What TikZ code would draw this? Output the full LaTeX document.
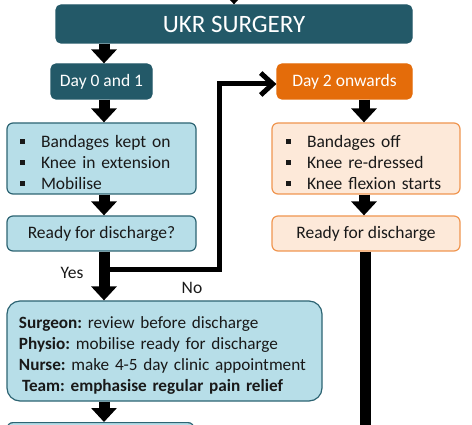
\documentclass[tikz,border=0pt]{standalone}
\usepackage{fontspec}
\setmainfont{Carlito}
\usetikzlibrary{arrows.meta}
\definecolor{dteal}{RGB}{35,89,104}
\definecolor{lblue}{RGB}{183,222,232}
\definecolor{lbord}{RGB}{45,100,115}
\definecolor{orng}{RGB}{228,108,10}
\definecolor{peach}{RGB}{253,233,217}
\definecolor{pbord}{RGB}{240,150,80}
\newcommand\bul{\makebox[21pt][l]{\raisebox{3.5pt}{\rule{5pt}{5pt}}}}
\frenchspacing
\begin{document}
\begin{tikzpicture}[x=1pt,y=-1pt,
  txt/.style={font=\fontsize{17.5}{21}\selectfont, text=black!90},
  darkbox/.style={draw=dteal, fill=dteal, text=white, rounded corners=5pt, line width=1.2pt,
    minimum height=35pt, inner sep=0pt, font=\fontsize{17.5}{21}\selectfont},
  orangebox/.style={darkbox, draw=orng, fill=orng},
  bluebox/.style={txt, draw=lbord, fill=lblue, rounded corners=6pt, line width=1.2pt,
    minimum height=35pt, inner ysep=0pt, align=left},
  peachbox/.style={bluebox, draw=pbord, fill=peach},
  bigarrow/.style={line width=11pt, -{Triangle[width=25pt,length=14pt]}},
  bigline/.style={line width=11pt},
  noline/.style={line width=5pt, -{Straight Barb[length=12pt,width=22pt]}},
  lbl/.style={txt, inner sep=0pt}
]
\useasboundingbox (0,0) rectangle (472,425);
\clip (0,0) rectangle (472,425);
\fill[white] (0,0) rectangle (472,425);

\node[darkbox, minimum width=356pt, minimum height=38pt, font=\fontsize{25}{29}\selectfont] (ukr) at (234,24) {UKR SURGERY};
\node[darkbox, minimum width=101pt] (day0) at (101.5,81.5) {Day 0 and 1};
\node[orangebox, minimum width=135pt] (day2) at (344.5,81.5) {Day 2 onwards};

\node[bluebox, minimum height=71pt, text width=163pt, inner xsep=13pt] (lb) at (101.5,158.5)
  {\rule{0pt}{20pt}\bul Bandages kept on\\ \bul Knee in extension\\ \bul Mobilise};
\node[peachbox, minimum height=71pt, text width=160pt, inner xsep=14pt] (rb) at (366,158.5)
  {\rule{0pt}{20pt}\bul Bandages off\\ \bul Knee re-dressed\\ \bul Knee flexion starts};

\node[bluebox, minimum width=189pt, align=center] (lr) at (101.5,233.5) {Ready for discharge?};
\node[peachbox, minimum width=188pt, align=center] (rr) at (366,233.5) {Ready for discharge};

\node[bluebox, rounded corners=13pt, minimum height=100pt, text width=291pt, inner xsep=12pt,
  font=\fontsize{17.2}{21}\selectfont] (surg) at (164.5,351)
  {\rule{0pt}{21pt}\mbox{\textbf{Surgeon:} review before discharge}\\
   \mbox{\textbf{Physio:} mobilise ready for discharge}\\
   \mbox{\textbf{Nurse:} make 4-5 day clinic appointment}\\
   \mbox{\hspace*{3pt}\textbf{Team: emphasise regular pain relief}}};

\node[bluebox, minimum width=187pt, minimum height=50pt, anchor=north] (bot) at (100.5,422) {};

\coordinate (ax) at (104,0);
\coordinate (bx) at (364,0);
\coordinate (topin) at (234,-20);
\coordinate (split) at (104,270);
\coordinate (nox) at (219.5,0);
\coordinate (rend) at (365.5,440);

\draw[bigarrow] (topin) -- (ukr.north);
\draw[bigarrow] (ukr.south -| ax) -- (day0.north -| ax);
\draw[bigarrow] (day0.south -| ax) -- (lb.north -| ax);
\draw[bigarrow] (lb.south -| ax) -- (lr.north -| ax);
\draw[noline] (split) -- (split -| nox) -- ([yshift=-2.5pt]day2.west -| nox) -- ([yshift=-2.5pt]day2.west);
\draw[bigarrow] (lr.south -| ax) -- (surg.north -| ax);
\draw[bigarrow] (surg.south -| ax) -- (bot.north -| ax);
\draw[bigarrow] (day2.south -| bx) -- (rb.north -| bx);
\draw[bigarrow] (rb.south -| bx) -- (rr.north -| bx);
\draw[bigline] (rr.south -| rend) -- (rend);

\node[lbl] (yes) at (72,273) {Yes};
\node[lbl] (no) at (192,288) {No};
\end{tikzpicture}
\end{document}
